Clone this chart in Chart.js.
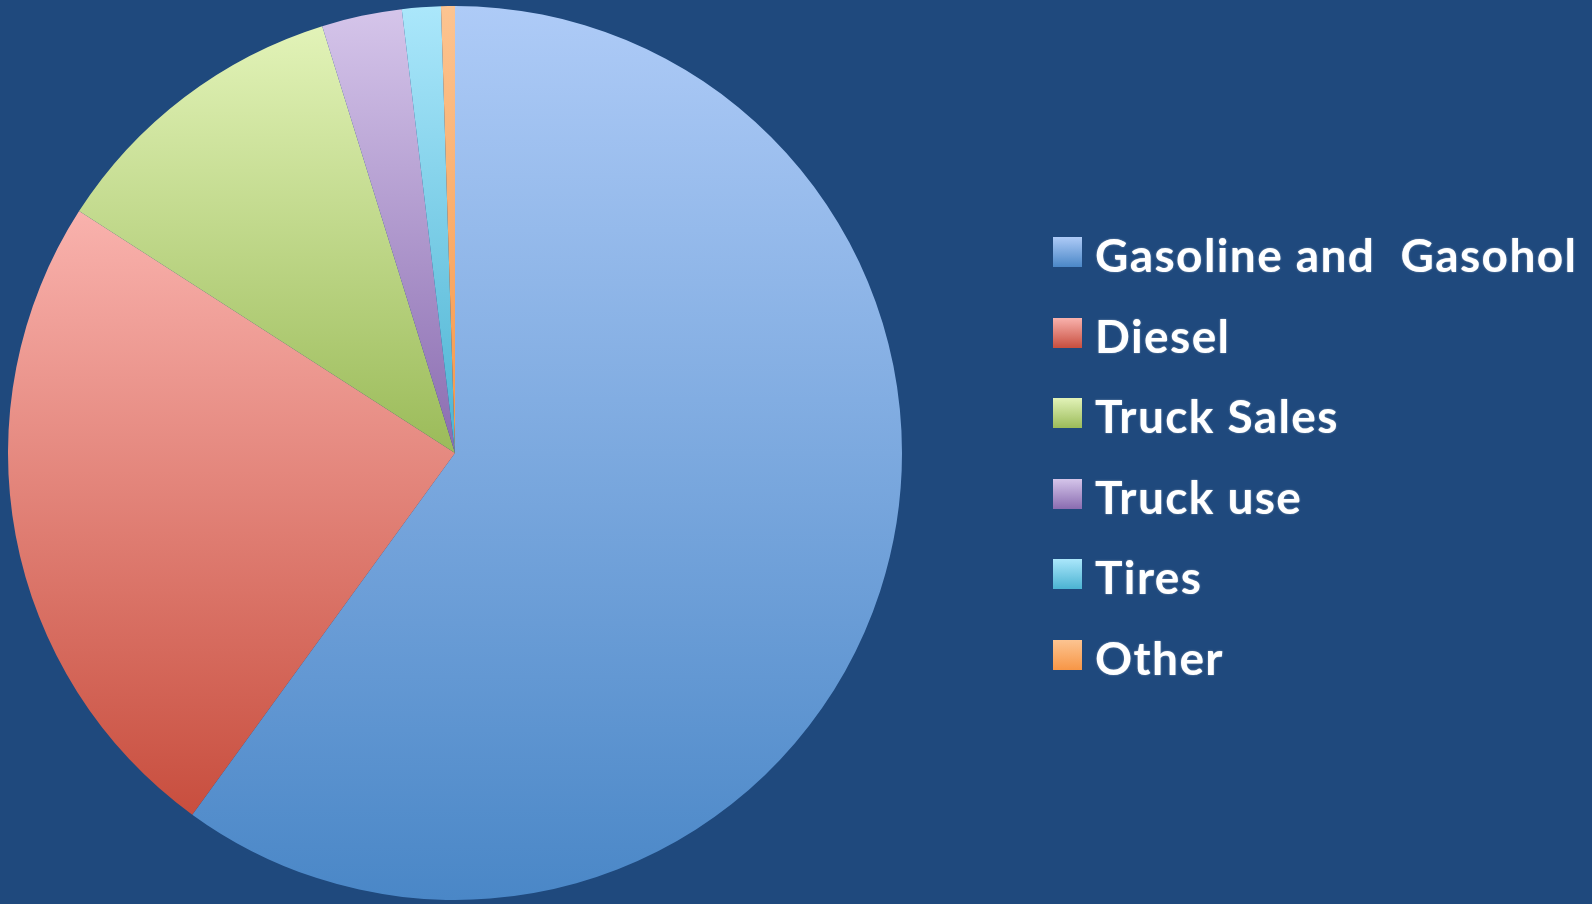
<!DOCTYPE html>
<html>
<head>
<meta charset="utf-8">
<script src="https://cdn.jsdelivr.net/npm/chart.js@4/dist/chart.umd.min.js"></script>
<style>
  html, body { margin: 0; padding: 0; background: #1f497d; }
  #wrap { position: relative; width: 1592px; height: 904px; background: #1f497d; overflow: hidden; }
  #pie { position: absolute; left: 0; top: 0; }
  #legend { position: absolute; left: 1053px; top: 237px; margin: 0; padding: 0; list-style: none; }
  #legend li { position: relative; height: 80.6px; white-space: pre; }
  #legend .box { position: absolute; left: 0; top: 0; width: 29px; height: 30px; }
  #legend .txt {
    position: absolute; left: 42px; top: -10px;
    font-family: Lato, "Open Sans", sans-serif; font-weight: 700; font-size: 46px;
    letter-spacing: 1.4px;
    color: #ffffff; text-shadow: 0 0 2px rgba(255,255,255,0.5);
  }
</style>
</head>
<body>
<div id="wrap">
  <canvas id="pie" width="1592" height="904"></canvas>
  <ul id="legend"></ul>
</div>
<script>
const labels = ["Gasoline and  Gasohol", "Diesel", "Truck Sales", "Truck use", "Tires", "Other"];
const shares = [60.0, 24.1, 11.1, 2.9, 1.4, 0.5];
// light top / dark bottom of each slice gradient
const topColors = ["#aecbf7", "#f9b2ad", "#e2f3b8", "#d5c5ea", "#abe7fb", "#fcc491"];
const baseColors = ["#4a87c7", "#c84e3e", "#9bbb59", "#8a6cb0", "#4bb3d2", "#f79646"];

const total = shares.reduce((a, b) => a + b, 0);

// vertical gradient over the bounding box of one slice
function sliceFill(context) {
  const chart = context.chart;
  const i = context.dataIndex;
  const area = chart.chartArea;
  if (!area) return baseColors[i];
  const cx = (area.left + area.right) / 2;
  const cy = (area.top + area.bottom) / 2;
  const r = Math.min(area.width, area.height) / 2;
  const before = shares.slice(0, i).reduce((a, b) => a + b, 0);
  const a0 = -Math.PI / 2 + 2 * Math.PI * before / total;
  const a1 = a0 + 2 * Math.PI * shares[i] / total;
  const ys = [cy, cy + r * Math.sin(a0), cy + r * Math.sin(a1)];
  if (a0 <= -Math.PI / 2 + 1e-6 || a1 >= 1.5 * Math.PI - 1e-6) ys.push(cy - r);
  if (a0 <= Math.PI / 2 && a1 >= Math.PI / 2) ys.push(cy + r);
  const top = Math.min(...ys), bottom = Math.max(...ys);
  const g = chart.ctx.createLinearGradient(0, top, 0, bottom);
  g.addColorStop(0, topColors[i]);
  g.addColorStop(1, baseColors[i]);
  return g;
}

const chart = new Chart(document.getElementById("pie"), {
  type: "pie",
  data: {
    labels: labels,
    datasets: [{
      data: shares,
      backgroundColor: sliceFill,
      borderWidth: 0
    }]
  },
  options: {
    responsive: false,
    animation: false,
    layout: { padding: { left: 8, top: 6, bottom: 4, right: 690 } },
    plugins: {
      legend: { display: false },
      tooltip: { enabled: false }
    }
  }
});

// legend on the right
const ul = document.getElementById("legend");
labels.forEach((lab, i) => {
  const li = document.createElement("li");
  const box = document.createElement("span");
  box.className = "box";
  box.style.background = `linear-gradient(${topColors[i]}, ${baseColors[i]})`;
  const txt = document.createElement("span");
  txt.className = "txt";
  txt.textContent = lab;
  li.appendChild(box);
  li.appendChild(txt);
  ul.appendChild(li);
});
</script>
</body>
</html>
